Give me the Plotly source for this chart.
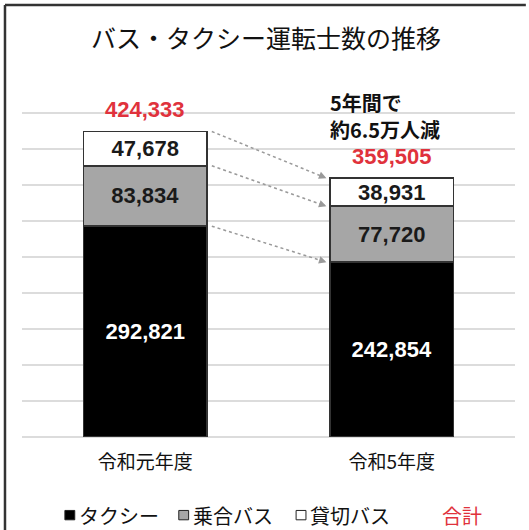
import plotly.graph_objects as go

# Drivers by year and category
years = ["令和元年度", "令和5年度"]
taxi = [292821, 242854]
route_bus = [83834, 77720]
charter_bus = [47678, 38931]
series_names = ["タクシー", "乗合バス", "貸切バス"]
title_text = "バス・タクシー運転士数の推移"
note_lines = ["5年間で", "約6.5万人減"]

totals = [a + b + c for a, b, c in zip(taxi, route_bus, charter_bus)]
xpos = [0, 1]

FONT_JP = "Noto Sans CJK JP"
FONT_NUM = "Liberation Sans, Arial, sans-serif"

fig = go.Figure()
stack = [
    (taxi, series_names[0], "#000000", "#ffffff"),
    (route_bus, series_names[1], "#a6a6a6", "#1a1a1a"),
    (charter_bus, series_names[2], "#ffffff", "#1a1a1a"),
]
for vals, name, fill, tcol in stack:
    fig.add_trace(go.Bar(
        x=xpos, y=vals, name=name, width=0.5,
        marker=dict(color=fill, line=dict(color="#333333", width=1.5)),
        texttemplate="<b>%{y:,}</b>", textposition="inside",
        insidetextanchor="middle",
        textfont=dict(family=FONT_NUM, size=22, color=tcol),
        showlegend=False, hoverinfo="skip",
    ))

# Totals above each stack
for x, t in zip(xpos, totals):
    fig.add_annotation(x=x, y=t, text=f"<b>{t:,}</b>", showarrow=False,
                       yanchor="middle", yshift=22,
                       font=dict(family=FONT_NUM, size=22, color="#e0323c"))

# Change note, one line per annotation
for line, shift in zip(note_lines, [76, 49]):
    fig.add_annotation(x=0.74, y=totals[1], text=f"<b>{line}</b>",
                       showarrow=False, xanchor="left", yanchor="middle",
                       yshift=shift,
                       font=dict(family=FONT_JP, size=20, color="#111111"))

# Connector arrows between segment tops
cum_left = [taxi[0], taxi[0] + route_bus[0], totals[0]]
cum_right = [taxi[1], taxi[1] + route_bus[1], totals[1]]
x0, x1 = 0.27, 0.735
for yl, yr in zip(cum_left, cum_right):
    slope = (yr - yl) / (x1 - x0)
    fig.add_shape(type="line", x0=x0, y0=yl, x1=x1 - 0.02, y1=yr - slope * 0.02,
                  line=dict(color="#9a9a9a", width=1.5, dash="dot"))
    fig.add_annotation(x=x1, y=yr, ax=x1 - 0.03, ay=yr - slope * 0.03,
                       axref="x", ayref="y", xref="x", yref="y", text="",
                       showarrow=True, arrowhead=2, arrowsize=1, arrowwidth=1.5,
                       arrowcolor="#9a9a9a")

# Legend row
legend_items = [
    (series_names[0], "#000000", 0.087),
    (series_names[1], "#a6a6a6", 0.318),
    (series_names[2], "#ffffff", 0.556),
]
ly = -0.217
for name, col, px in legend_items:
    fig.add_shape(type="rect", xref="paper", yref="paper",
                  x0=px, x1=px + 0.02, y0=ly - 0.013, y1=ly + 0.013,
                  fillcolor=col, line=dict(color="#222222", width=1))
    fig.add_annotation(xref="paper", yref="paper", x=px + 0.024, y=ly,
                       text=name, showarrow=False, xanchor="left", yanchor="middle",
                       font=dict(family=FONT_JP, size=20, color="#111111"))
fig.add_annotation(xref="paper", yref="paper", x=0.848, y=ly, text="合計",
                   showarrow=False, xanchor="left", yanchor="middle",
                   font=dict(family=FONT_JP, size=20, color="#e0323c"))

# Title
fig.add_annotation(xref="paper", yref="paper", x=0.495, y=1.0, yshift=40,
                   text=title_text, showarrow=False, yanchor="middle",
                   font=dict(family=FONT_JP, size=25, color="#111111"))

# Outer frame (top and left edges)
fig.add_shape(type="line", xref="paper", yref="paper", x0=-0.0345, x1=1.022,
              y0=1.2, y1=1.2, line=dict(color="#333333", width=2.5))
fig.add_shape(type="line", xref="paper", yref="paper", x0=-0.0345, x1=-0.0345,
              y0=1.2, y1=-0.3, line=dict(color="#333333", width=2.5))

fig.update_layout(
    width=529, height=530, barmode="stack",
    margin=dict(l=22, r=14, t=77, b=93),
    paper_bgcolor="#ffffff", plot_bgcolor="#ffffff",
    uniformtext=dict(minsize=22, mode="show"),
    xaxis=dict(range=[-0.5, 1.5], tickvals=xpos, ticktext=years,
               showgrid=False, zeroline=False, showline=False,
               ticks="", ticklabelstandoff=12,
               tickfont=dict(family=FONT_JP, size=19, color="#111111")),
    yaxis=dict(range=[0, 500000], dtick=50000, showticklabels=False,
               showgrid=True, gridcolor="#dcdcdc", gridwidth=1.5,
               zeroline=True, zerolinecolor="#dcdcdc", zerolinewidth=1.5,
               showline=False),
)

fig.write_html("out.html")
